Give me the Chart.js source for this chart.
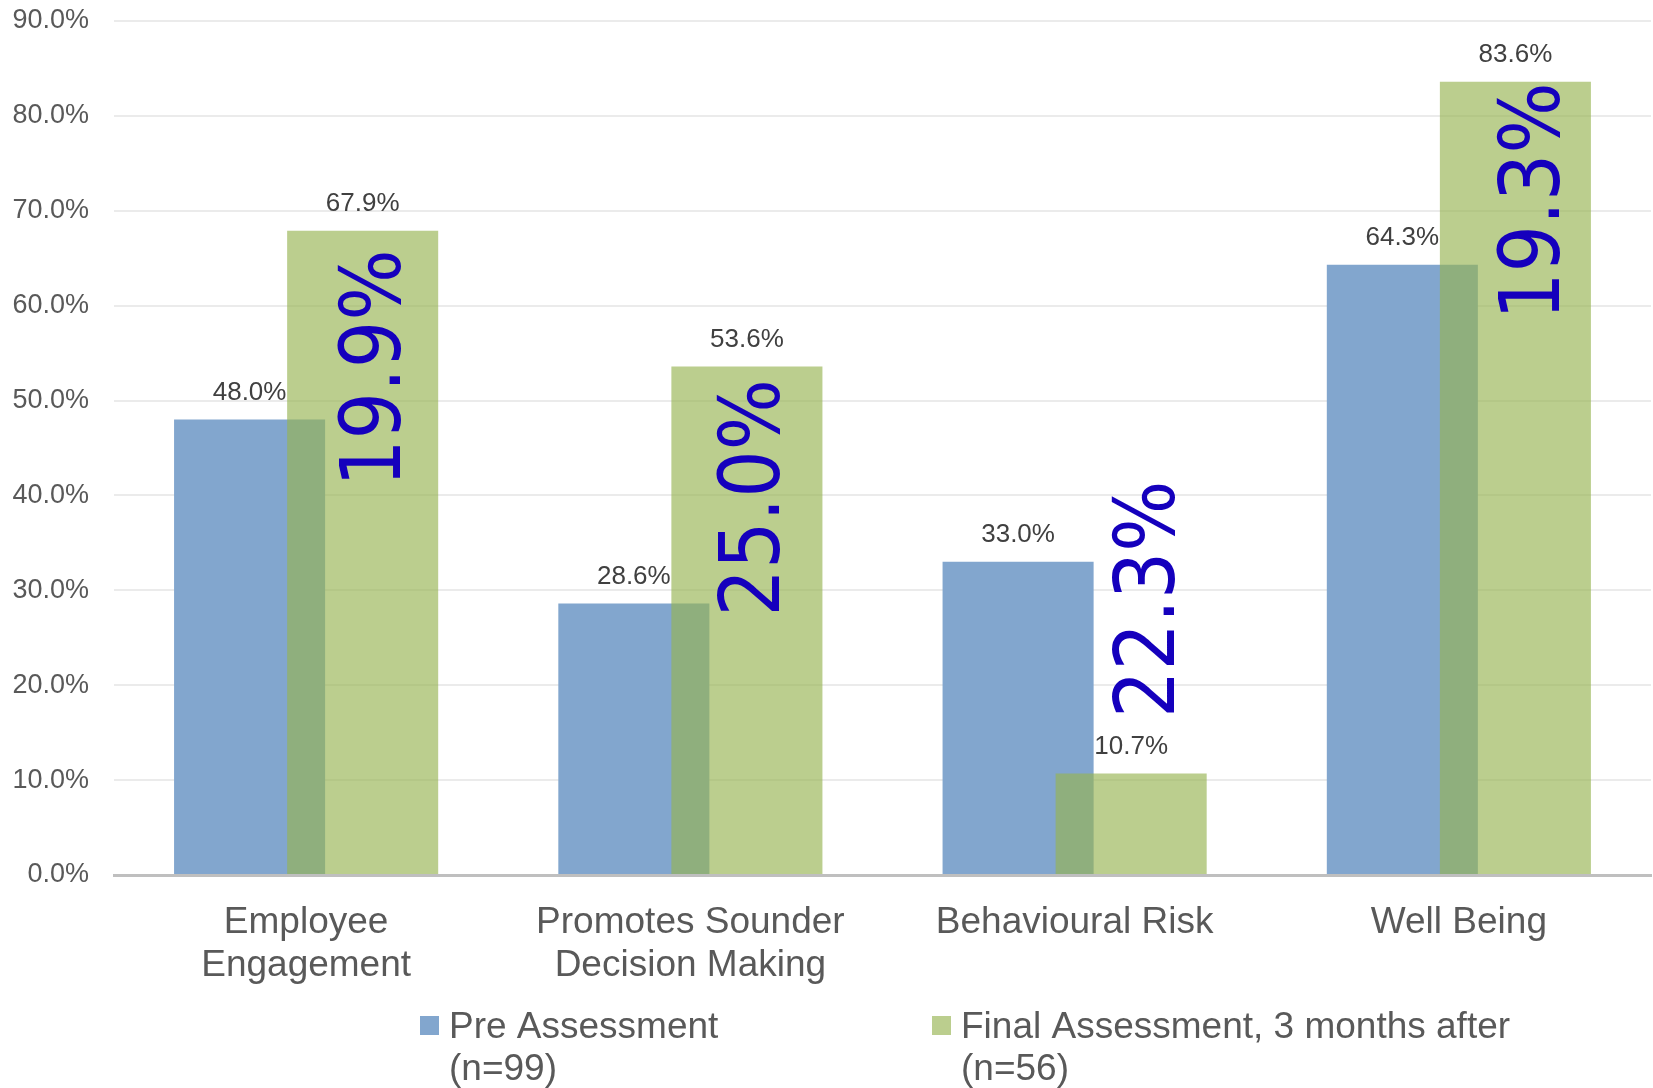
<!DOCTYPE html>
<html>
<head>
<meta charset="utf-8">
<script src="https://cdn.jsdelivr.net/npm/chart.js@4/dist/chart.umd.min.js"></script>
<style>
  html, body { margin: 0; padding: 0; background: #fff; }
  .graph-container { width: 1653px; height: 1088px; position: relative; }
</style>
</head>
<body>
<div class="graph-container"><canvas id="chart"></canvas></div>
<script>
// Data
const categories = [['Employee', 'Engagement'], ['Promotes Sounder', 'Decision Making'], 'Behavioural Risk', 'Well Being'];
const preAssessment = [48.0, 28.6, 33.0, 64.3];
const finalAssessment = [67.9, 53.6, 10.7, 83.6];
const changeLabels = ['19.9%', '25.0%', '22.3%', '19.3%'];
const seriesNames = [['Pre Assessment', '(n=99)'], ['Final Assessment, 3 months after', '(n=56)']];
const yTickValues = [0, 10, 20, 30, 40, 50, 60, 70, 80, 90];

const blue = 'rgb(130, 166, 206)';
const green = 'rgba(150, 180, 81, 0.65)';
const labelFont = 'Liberation Sans, Arial, sans-serif';

// Chart.js paints the left bar of a group on top; the original has the green (right) bar on top
const greenOnTop = {
    id: 'greenOnTop',
    beforeDatasetDraw(chart, args) {
        if (args.index === 0) return false;
        if (args.index === 1) chart.getDatasetMeta(0).controller.draw();
    }
};

// value labels above each bar
const valueLabels = {
    id: 'valueLabels',
    afterDatasetsDraw(chart) {
        const ctx = chart.ctx;
        ctx.save();
        ctx.font = '26px ' + labelFont;
        ctx.fillStyle = '#404040';
        ctx.textAlign = 'center';
        ctx.textBaseline = 'middle';
        chart.data.datasets.forEach((ds, i) => {
            chart.getDatasetMeta(i).data.forEach((bar, j) => {
                ctx.fillText(ds.data[j].toFixed(1) + '%', bar.x, bar.y - 27);
            });
        });
        ctx.restore();
    }
};

// big rotated change figures on the green bars (text box in the original is a bit squeezed)
const changeNotes = {
    id: 'changeNotes',
    afterDatasetsDraw(chart, args, opts) {
        const ctx = chart.ctx;
        const yScale = chart.scales.y;
        ctx.save();
        ctx.font = '83px DejaVu Sans, Verdana, sans-serif';
        ctx.fillStyle = '#1500BD';
        ctx.textAlign = 'center';
        ctx.textBaseline = 'middle';
        chart.getDatasetMeta(1).data.forEach((bar, j) => {
            const [dx, yv] = opts.place[j];
            ctx.save();
            ctx.translate(bar.x + dx, yScale.getPixelForValue(yv));
            ctx.rotate(-Math.PI / 2);
            ctx.scale(0.9, 1);
            ctx.fillText(changeLabels[j], 0, 0);
            ctx.restore();
        });
        ctx.restore();
    }
};

// two-line legend like the original
const wrapLegend = {
    id: 'wrapLegend',
    afterDraw(chart, args, opts) {
        const ctx = chart.ctx;
        ctx.save();
        ctx.font = '37px ' + labelFont;
        ctx.textBaseline = 'alphabetic';
        ctx.textAlign = 'left';
        chart.data.datasets.forEach((ds, i) => {
            const x = opts.x[i];
            ctx.fillStyle = ds.backgroundColor;
            ctx.fillRect(x, opts.boxTop, 19, 19);
            ctx.fillStyle = '#595959';
            seriesNames[i].forEach((line, k) => {
                ctx.fillText(line, x + 29, opts.baseline + k * 42);
            });
        });
        ctx.restore();
    }
};

new Chart(document.getElementById('chart'), {
    type: 'bar',
    data: {
        labels: categories,
        datasets: [
            { label: seriesNames[0].join(' '), data: preAssessment, backgroundColor: blue },
            { label: seriesNames[1].join(' '), data: finalAssessment, backgroundColor: green }
        ]
    },
    options: {
        responsive: true,
        maintainAspectRatio: false,
        animation: false,
        categoryPercentage: 0.5885,
        barPercentage: 1.336,
        layout: { padding: { left: 12, right: 2, top: 21, bottom: 75 } },
        plugins: {
            legend: { display: false },
            tooltip: { enabled: false },
            changeNotes: { place: [[15.5, 53.4], [10.5, 39.75], [21.5, 29.05], [22.5, 71.0]] },
            wrapLegend: { x: [420, 932], boxTop: 1016, baseline: 1038 }
        },
        scales: {
            x: {
                grid: { display: false, drawTicks: false },
                border: { display: true, color: '#BFBFBF', width: 3 },
                ticks: {
                    color: '#595959',
                    padding: 26,
                    maxRotation: 0,
                    font: { family: labelFont, size: 37, lineHeight: 43 / 37 }
                }
            },
            y: {
                min: 0,
                max: 90,
                afterBuildTicks: scale => { scale.ticks = yTickValues.map(v => ({ value: v })); },
                afterFit: scale => {
                    scale.width = 102;
                    scale.paddingTop = 0;
                    scale.paddingBottom = 0;
                },
                grid: { color: '#EBEBEB', lineWidth: 2, drawTicks: false },
                border: { display: false },
                ticks: {
                    color: '#595959',
                    padding: 25,
                    font: { family: labelFont, size: 27 },
                    callback: value => value.toFixed(1) + '%'
                }
            }
        }
    },
    plugins: [greenOnTop, valueLabels, changeNotes, wrapLegend]
});
</script>
</body>
</html>
